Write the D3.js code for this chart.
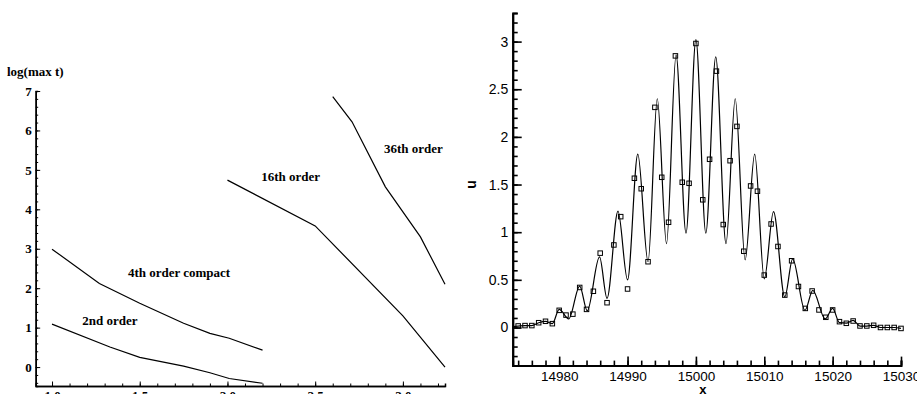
<!DOCTYPE html>
<html>
<head>
<meta charset="utf-8">
<script src="https://cdn.jsdelivr.net/npm/d3@7"></script>
<style>
  html, body { margin: 0; padding: 0; background: #fff; overflow: hidden; }
  svg { display: block; }
</style>
</head>
<body>
<svg id="chart" width="917" height="394"></svg>
<script>
// ---- left panel: log(max t) per scheme
const order2X = [1.0, 1.33, 1.5, 1.75, 1.9, 2.01, 2.2]
const order2Y = [1.09, 0.51, 0.245, 0.025, -0.145, -0.29, -0.41]
const order4X = [1.0, 1.27, 1.5, 1.75, 1.9, 2.01, 2.2]
const order4Y = [2.99, 2.12, 1.62, 1.11, 0.855, 0.73, 0.43]
const order16X = [2.0, 2.5, 3.0, 3.24]
const order16Y = [4.74, 3.58, 1.3, 0.0]
const order36X = [2.6, 2.71, 2.9, 3.1, 3.24]
const order36Y = [6.86, 6.22, 4.57, 3.3, 2.1]
const seriesNames = ['2nd order', '4th order compact', '16th order', '36th order']
// where the series names sit (data coords)
const nameX = [1.33, 1.724, 2.36, 3.06]
const nameY = [1.17, 2.4, 4.83, 5.55]
const leftTicksX = [1.0, 1.5, 2.0, 2.5, 3.0]
const leftTickLabelsX = ['1.0', '1.5', '2.0', '2.5', '3.0']
const leftTicksY = [0, 1, 2, 3, 4, 5, 6, 7]

// ---- right panel: u(x), exact curve (extrema) and sampled points
const curveX = [14973.2, 14974, 14975, 14976, 14977, 14978, 14979, 14980, 14981.4, 14983.0, 14984.1,
  14985.9, 14987.0, 14988.6, 14990.0, 14991.5, 14993.0, 14994.35, 14995.7, 14997.1, 14998.55,
  15000.0, 15001.45, 15002.9, 15004.4, 15005.75, 15007.2, 15008.6, 15010.0, 15011.35, 15013.0,
  15014.15, 15015.95, 15017.1, 15018.9, 15020.0, 15021.0, 15022, 15023.0, 15024, 15025, 15026,
  15027, 15028, 15029, 15030]
const curveU = [0.01, 0.015, 0.02, 0.02, 0.05, 0.065, 0.04, 0.19, 0.09, 0.435, 0.175,
  0.74, 0.305, 1.22, 0.5, 1.82, 0.69, 2.4, 0.88, 2.86, 0.99,
  3.02, 0.99, 2.84, 0.88, 2.4, 0.71, 1.82, 0.51, 1.215, 0.32,
  0.72, 0.18, 0.39, 0.09, 0.2, 0.05, 0.045, 0.075, 0.015, 0.015, 0.023,
  0.0, 0.0, 0.0, -0.01]
const pointX = d3.range(14974, 15031)
const pointU = [0.016, 0.02, 0.02, 0.05, 0.065, 0.04, 0.18, 0.13, 0.14, 0.42,
  0.19, 0.38, 0.78, 0.26, 0.866, 1.163, 0.404, 1.566, 1.456, 0.69,
  2.31, 1.576, 1.104, 2.85, 1.524, 1.513, 2.98, 1.34, 1.765, 2.69,
  1.08, 1.75, 2.11, 0.8, 1.485, 1.43, 0.55, 1.086, 0.85, 0.34,
  0.7, 0.43, 0.2, 0.383, 0.184, 0.107, 0.184, 0.061, 0.044, 0.068,
  0.016, 0.016, 0.023, 0.0, 0.0, 0.0, -0.01]
const rightTicksX = [14980, 14990, 15000, 15010, 15020, 15030]
const rightTicksU = [0, 0.5, 1, 1.5, 2, 2.5, 3]

const svg = d3.select('#chart')
const serif = 'Liberation Serif, Times New Roman, serif'
const sans = 'Liberation Sans, Arial, Helvetica, sans-serif'

// ================= left panel =================
const lx = d3.scaleLinear().domain([0.907, 3.24]).range([35.7, 445])
const ly = d3.scaleLinear().domain([-0.48, 7]).range([386, 91])

const lxMinor = svg.append('g').attr('transform', `translate(0, ${ly.range()[0]})`)
  .call(d3.axisBottom(lx).tickValues(d3.range(1.0, 3.21, 0.1)).tickSize(-2.5).tickFormat(''))
const lxMajor = svg.append('g').attr('transform', `translate(0, ${ly.range()[0]})`)
  .call(d3.axisBottom(lx).tickValues(leftTicksX).tickSizeInner(-4.5).tickSizeOuter(0)
    .tickPadding(5).tickFormat((d, i) => leftTickLabelsX[i]))

const lyMinor = svg.append('g').attr('transform', `translate(${lx.range()[0]}, 0)`)
  .call(d3.axisLeft(ly).tickValues(d3.range(-0.4, 7.01, 0.2)).tickSize(-2.5).tickFormat(''))
const lyMajor = svg.append('g').attr('transform', `translate(${lx.range()[0]}, 0)`)
  .call(d3.axisLeft(ly).tickValues(leftTicksY).tickSizeInner(-4.5).tickSizeOuter(0)
    .tickPadding(4).tickFormat(d3.format('d')))

;[lxMinor, lxMajor, lyMinor, lyMajor].forEach((g) => {
  g.select('.domain').attr('stroke-width', 1.5)
  g.selectAll('.tick line').attr('stroke-width', 1)
  g.attr('font-family', serif).attr('font-size', 13).attr('font-weight', 'bold')
  g.selectAll('text').attr('fill', '#000')
})

svg.append('text')
  .attr('x', 7)
  .attr('y', 76)
  .attr('font-family', serif)
  .attr('font-weight', 'bold')
  .attr('font-size', 13)
  .text('log(max t)')

const leftLine = d3.line().x((d) => lx(d[0])).y((d) => ly(d[1]))
const leftSeries = [
  d3.zip(order2X, order2Y),
  d3.zip(order4X, order4Y),
  d3.zip(order16X, order16Y),
  d3.zip(order36X, order36Y),
]
svg.append('g').selectAll('path')
  .data(leftSeries)
  .join('path')
  .attr('d', leftLine)
  .attr('fill', 'none')
  .attr('stroke', '#000')
  .attr('stroke-width', 1.2)

svg.append('g').selectAll('text')
  .data(seriesNames)
  .join('text')
  .attr('x', (d, i) => lx(nameX[i]))
  .attr('y', (d, i) => ly(nameY[i]))
  .attr('dy', '0.35em')
  .attr('text-anchor', 'middle')
  .attr('font-family', serif)
  .attr('font-weight', 'bold')
  .attr('font-size', 13)
  .text((d) => d)

// ================= right panel =================
const rx = d3.scaleLinear().domain([14973.2, 15030]).range([512.7, 901])
const ry = d3.scaleLinear().domain([-0.4, 3.3]).range([365.6, 13])

const rxMinor = svg.append('g').attr('transform', `translate(0, ${ry.range()[0]})`)
  .call(d3.axisBottom(rx).tickValues(d3.range(14974, 15031, 2)).tickSize(-5).tickFormat(''))
const rxMajor = svg.append('g').attr('transform', `translate(0, ${ry.range()[0]})`)
  .call(d3.axisBottom(rx).tickValues(rightTicksX).tickSizeInner(-9).tickSizeOuter(0)
    .tickPadding(5.5).tickFormat(d3.format('d')))

const ryMinor = svg.append('g').attr('transform', `translate(${rx.range()[0]}, 0)`)
  .call(d3.axisLeft(ry).tickValues(d3.range(-0.3, 3.31, 0.1)).tickSize(-5).tickFormat(''))
const ryMajor = svg.append('g').attr('transform', `translate(${rx.range()[0]}, 0)`)
  .call(d3.axisLeft(ry).tickValues(rightTicksU).tickSizeInner(-9).tickSizeOuter(0)
    .tickPadding(4.5).tickFormat((d) => String(d)))

;[rxMinor, rxMajor, ryMinor, ryMajor].forEach((g) => {
  g.select('.domain').attr('stroke-width', 2)
  g.selectAll('.tick line').attr('stroke-width', 1.6)
  g.attr('font-family', sans).attr('font-size', 14)
  g.selectAll('text').attr('fill', '#000')
})
rxMajor.attr('font-size', 13.5)

svg.append('text')
  .attr('transform', `translate(476, ${ry(1.5)}) rotate(-90)`)
  .attr('text-anchor', 'middle')
  .attr('font-family', sans)
  .attr('font-weight', 'bold')
  .attr('font-size', 14)
  .text('u')

svg.append('text')
  .attr('x', rx(15001))
  .attr('y', 394)
  .attr('text-anchor', 'middle')
  .attr('font-family', sans)
  .attr('font-weight', 'bold')
  .attr('font-size', 13)
  .text('x')

const uLine = d3.line()
  .x((d) => rx(d[0]))
  .y((d) => ry(d[1]))
  .curve(d3.curveMonotoneX)

svg.append('path')
  .datum(d3.zip(curveX, curveU))
  .attr('d', uLine)
  .attr('fill', 'none')
  .attr('stroke', '#000')
  .attr('stroke-width', 1.2)

const sq = 4.5
svg.append('g').selectAll('rect')
  .data(d3.zip(pointX, pointU))
  .join('rect')
  .attr('x', (d) => rx(d[0]) - sq / 2)
  .attr('y', (d) => ry(d[1]) - sq / 2)
  .attr('width', sq)
  .attr('height', sq)
  .attr('fill', 'none')
  .attr('stroke', '#000')
  .attr('stroke-width', 1)
</script>
</body>
</html>
